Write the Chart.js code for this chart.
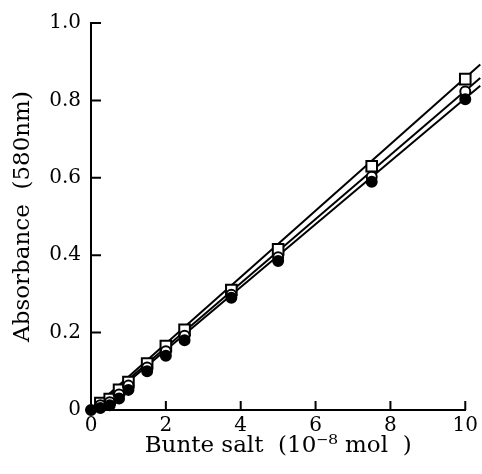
<!DOCTYPE html>
<html>
<head>
<meta charset="utf-8">
<script src="https://cdn.jsdelivr.net/npm/chart.js@4"></script>
<style>
  html, body { margin: 0; padding: 0; background: #fff; }
  #wrap { width: 482px; height: 474px; }
</style>
</head>
<body>
<div id="wrap"><canvas id="chart"></canvas></div>
<script>
// Bunte salt amount (10^-8 mol)
const xVals = [0, 0.25, 0.5, 0.75, 1, 1.5, 2, 2.5, 3.75, 5, 7.5, 10];
// Absorbance at 580 nm (null = hidden under the filled circle)
const squareVals = [null, 0.018, 0.028, 0.052, 0.072, 0.12, 0.165, 0.207, 0.31, 0.415, 0.63, 0.855];
const openCircleVals = [null, 0.012, 0.02, 0.04, 0.063, 0.11, 0.152, 0.192, 0.298, 0.395, 0.603, 0.823];
const filledCircleVals = [0, 0.005, 0.012, 0.03, 0.052, 0.1, 0.14, 0.18, 0.29, 0.385, 0.59, 0.803];
// fitted straight lines (end points)
const fitX = [0, 10.4];
const squareFit = [0.0, 0.893];
const openCircleFit = [-0.004, 0.858];
const filledCircleFit = [-0.008, 0.838];

const xTicks = [0, 2, 4, 6, 8, 10];
const yTicks = [0, 0.2, 0.4, 0.6, 0.8, 1.0];

const toPts = (xs, ys) => xs.map((x, i) => ({ x: x, y: ys[i] }));
const serif = '"DejaVu Serif", "Liberation Serif", serif';

function fitLine(vals) {
    return {
        type: 'line',
        data: toPts(fitX, vals),
        borderColor: '#000',
        borderWidth: 2,
        pointRadius: 0,
        fill: false,
        clip: false,
        order: 10
    };
}

// inward tick marks
const innerTicks = {
    id: 'innerTicks',
    afterDatasetsDraw(chart) {
        const ctx = chart.ctx;
        const xs = chart.scales.x, ys = chart.scales.y;
        ctx.save();
        ctx.strokeStyle = '#000';
        ctx.lineWidth = 2;
        ctx.beginPath();
        xTicks.forEach(v => {
            if (v === 0) return;
            const px = xs.getPixelForValue(v);
            ctx.moveTo(px, ys.bottom);
            ctx.lineTo(px, ys.bottom - 9);
        });
        yTicks.forEach(v => {
            if (v === 0) return;
            const py = ys.getPixelForValue(v);
            ctx.moveTo(xs.left, py);
            ctx.lineTo(xs.left + 10, py);
        });
        ctx.stroke();
        ctx.restore();
    }
};

new Chart(document.getElementById('chart'), {
    type: 'scatter',
    data: {
        datasets: [
            fitLine(squareFit),
            fitLine(openCircleFit),
            fitLine(filledCircleFit),
            {
                data: toPts(xVals, filledCircleVals),
                pointStyle: 'circle',
                pointRadius: 5,
                backgroundColor: '#000',
                borderColor: '#000',
                borderWidth: 2,
                clip: false,
                order: 1
            },
            {
                data: toPts(xVals, openCircleVals),
                pointStyle: 'circle',
                pointRadius: 5,
                backgroundColor: '#fff',
                borderColor: '#000',
                borderWidth: 2,
                clip: false,
                order: 2
            },
            {
                data: toPts(xVals, squareVals),
                pointStyle: 'rect',
                pointRadius: 7.5,
                backgroundColor: '#fff',
                borderColor: '#000',
                borderWidth: 2,
                clip: false,
                order: 3
            }
        ]
    },
    options: {
        responsive: true,
        maintainAspectRatio: false,
        animation: false,
        layout: { padding: { top: 23, right: 15, left: 0, bottom: 0 } },
        plugins: {
            legend: { display: false },
            tooltip: { enabled: false }
        },
        scales: {
            x: {
                type: 'linear',
                min: 0,
                max: 10,
                afterFit: s => { s.height = 64; },
                afterBuildTicks: s => { s.ticks = xTicks.map(v => ({ value: v })); },
                grid: { display: false, drawTicks: false },
                border: { display: true, color: '#000', width: 2 },
                ticks: {
                    color: '#000',
                    padding: 4,
                    maxRotation: 0,
                    font: { family: serif, size: 20 }
                },
                title: {
                    display: true,
                    text: 'Bunte salt  (10⁻⁸ mol  )',
                    color: '#000',
                    padding: { top: 0, bottom: 14 },
                    font: { family: serif, size: 23 }
                }
            },
            y: {
                type: 'linear',
                min: 0,
                max: 1,
                afterFit: s => { s.width = 91; },
                afterBuildTicks: s => { s.ticks = yTicks.map(v => ({ value: v })); },
                grid: { display: false, drawTicks: false },
                border: { display: true, color: '#000', width: 2 },
                ticks: {
                    color: '#000',
                    padding: 10,
                    font: { family: serif, size: 20 },
                    callback: v => v === 0 ? '0' : v.toFixed(1)
                },
                title: {
                    display: true,
                    text: 'Absorbance  (580nm)',
                    color: '#000',
                    padding: { top: 9, bottom: 0 },
                    font: { family: serif, size: 23 }
                }
            }
        }
    },
    plugins: [innerTicks]
});
</script>
</body>
</html>
